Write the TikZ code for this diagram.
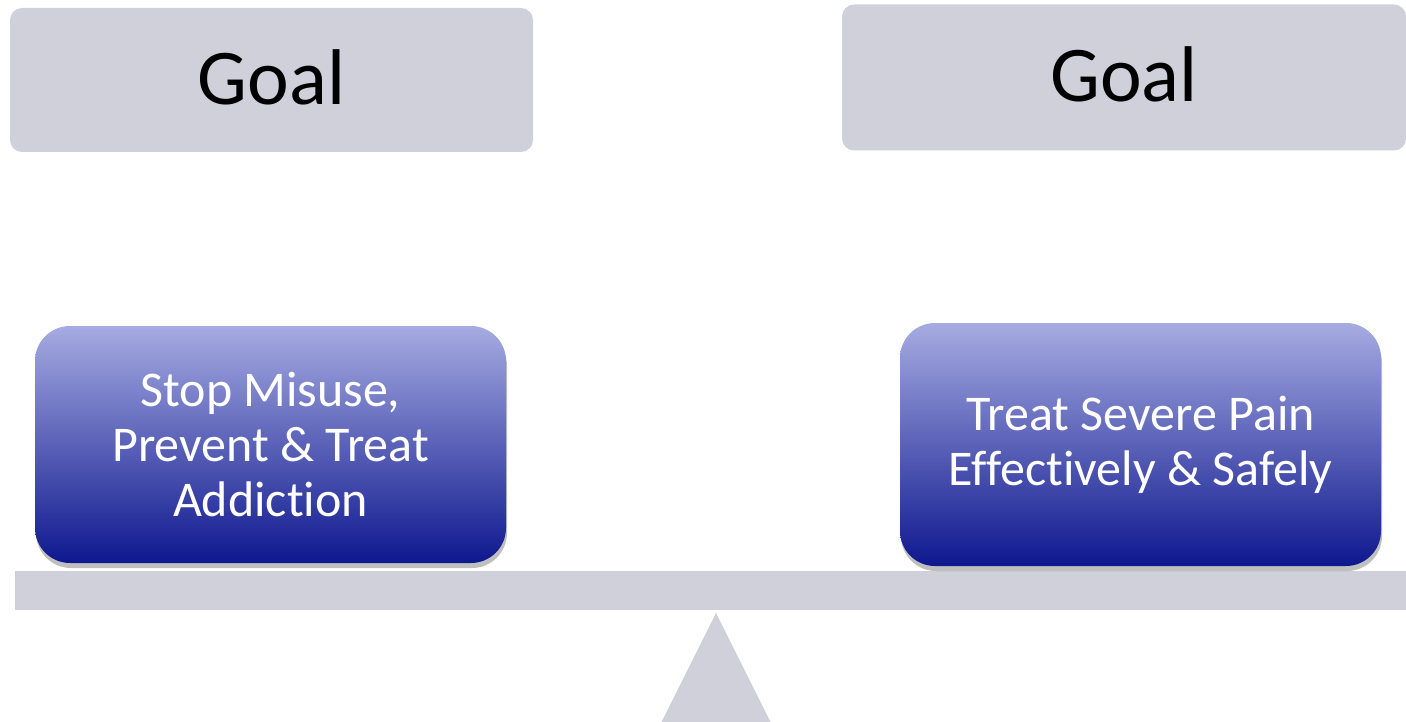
\documentclass[tikz,border=0pt]{standalone}
\usepackage{fontspec}
\setmainfont{Carlito}[Ligatures={NoCommon}]
\usetikzlibrary{shadows}
\definecolor{scalegray}{HTML}{D0D0DB}
\definecolor{bluetop}{HTML}{A6ABE1}
\definecolor{bluemid}{HTML}{8187C7}
\definecolor{bluebot}{HTML}{0E188E}
\tikzset{
  goalbox/.style={fill=scalegray, rounded corners=12pt, inner sep=0pt,
    font=\fontsize{79}{90}\selectfont, text=black, text depth=6pt},
  weightbox/.style={rounded corners=35pt, inner sep=0pt, align=center,
    top color=bluetop, middle color=bluemid, bottom color=bluebot,
    text=white, font=\fontsize{50}{55}\selectfont,
    drop shadow={shadow xshift=1pt, shadow yshift=-5pt, opacity=0.25, fill=black}},
  plankstyle/.style={fill=scalegray, draw=none, inner sep=0pt},
}
\begin{document}
\begin{tikzpicture}[x=1pt, y=-1pt]
\useasboundingbox (0,0) rectangle (1406,722);
\node[goalbox, minimum width=523pt, minimum height=144pt] (goalL) at (271.5,80) {Goal};
\node[goalbox, minimum width=564pt, minimum height=146pt] (goalR) at (1124,77.5) {Goal};
\node[plankstyle, minimum width=1391pt, minimum height=39pt] (plank) at (710.5,590.5) {};
\node[weightbox, minimum width=471pt, minimum height=237pt] (boxL) at (270.5,444.5)
  {Stop Misuse,\\Prevent \& Treat\\Addiction};
\node[weightbox, minimum width=481pt, minimum height=243pt] (boxR) at (1140.5,444.5)
  {Treat Severe Pain\\Effectively \& Safely};
\coordinate (apex) at (716,613);
\fill[scalegray] (apex) -- (661.5,722) -- (770.5,722) -- cycle;
\end{tikzpicture}
\end{document}
